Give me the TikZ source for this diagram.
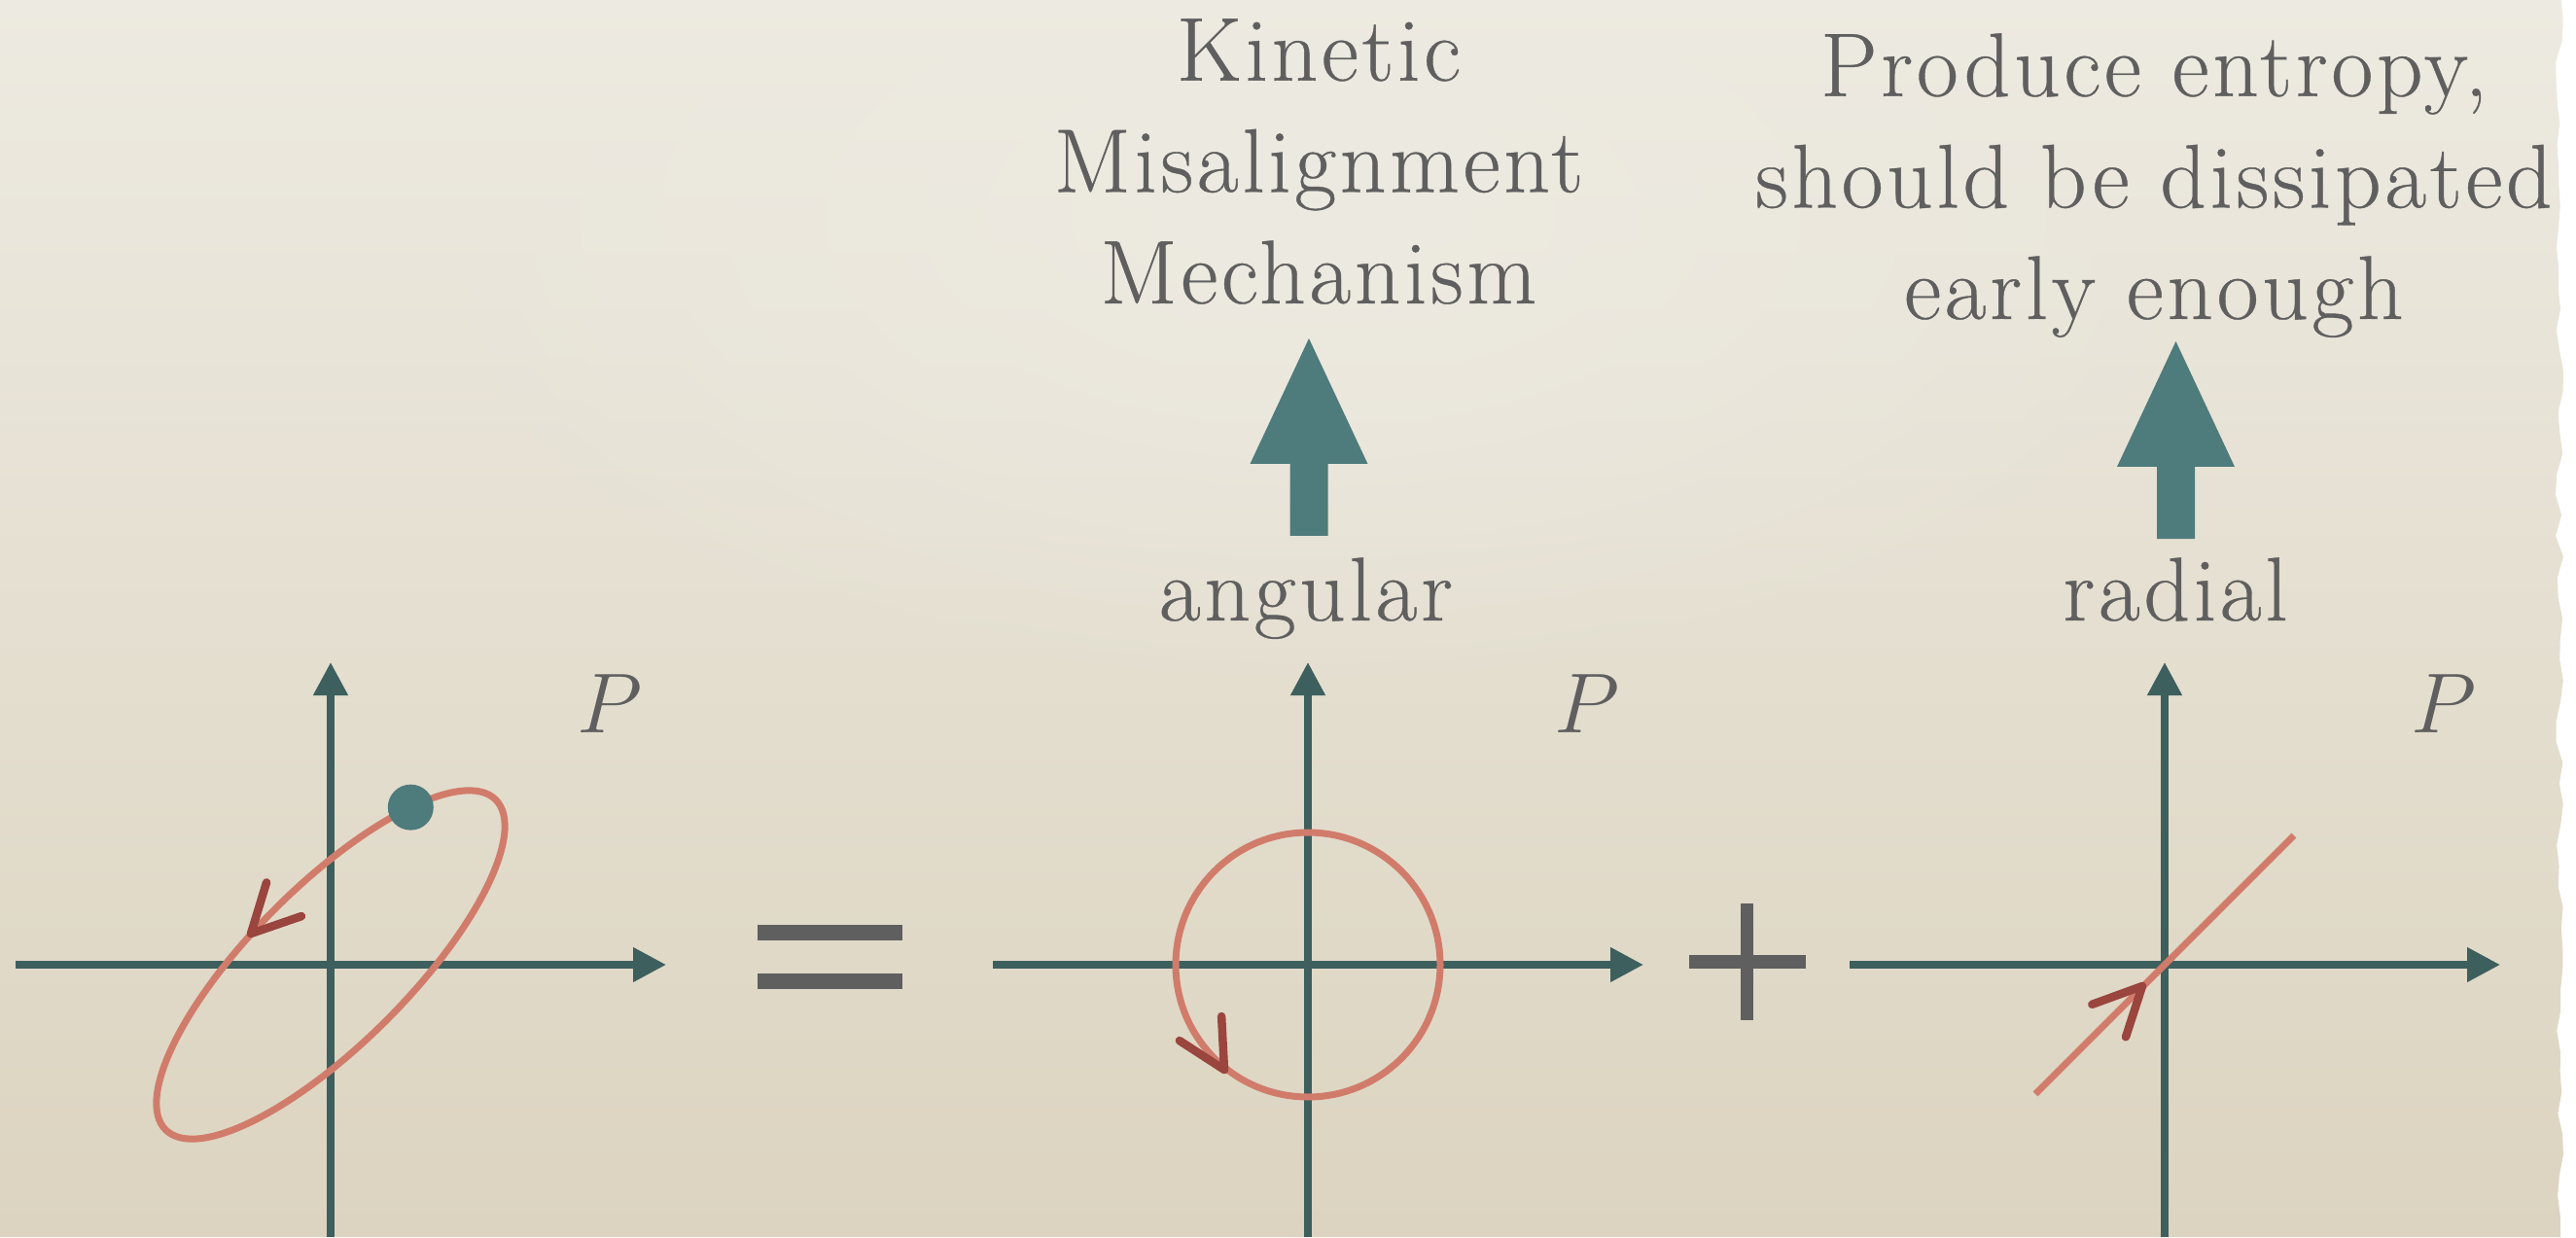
\documentclass[tikz,border=0pt]{standalone}
\usepackage{fontspec}
\setmainfont{Latin Modern Roman}[LetterSpace=4, FakeBold=0.4]
\usepackage{tikz}
\usetikzlibrary{arrows.meta,positioning,calc,fadings}

\definecolor{axisgreen}{HTML}{3D5F5E}
\definecolor{tealfill}{HTML}{4E7B7B}
\definecolor{orbitred}{HTML}{D17C6B}
\definecolor{tipred}{HTML}{9A453E}
\definecolor{textgrey}{HTML}{5F5F5F}
\definecolor{paperlight}{HTML}{EDEAE1}
\definecolor{paperdark}{HTML}{DCD4C0}
\tikzfading[name=softspot, inner color=transparent!0, outer color=transparent!100]

\begin{document}
\begin{tikzpicture}[
  axis/.style={draw=axisgreen, line width=0.075cm, -{Triangle[length=0.34cm, width=0.34cm]}},
  orbit/.style={draw=orbitred, line width=0.07cm},
  vtip/.style={draw=tipred, line width=0.085cm, line cap=round, line join=round},
  words/.style={text=textgrey, font=\fontsize{26.5}{32.6}\selectfont, align=center, inner sep=0pt},
  ball/.style={circle, fill=tealfill, inner sep=0pt, minimum size=0.47cm},
  bar/.style={fill=textgrey},
  bigarrow/.style={fill=tealfill}
]
\useasboundingbox (0,0) rectangle (26.49,12.72);
% paper
\fill[white] (0,0) rectangle (26.49,12.72);
\pgfmathsetseed{7}
\shade[top color=paperlight, bottom color=paperdark]
  (0,0) -- (26.33,0) \foreach \k in {1,...,60}{ -- ({26.32+0.04*rand},{\k*0.212}) } -- (0,12.72) -- cycle;
\fill[paperlight, path fading=softspot] (13.5,10.5) ellipse (10 and 5);

% the three phase planes
\coordinate (o1) at (3.40,2.80);
\coordinate (o2) at (13.45,2.80);
\coordinate (o3) at (22.26,2.80);
\foreach \i in {1,2,3}{
  \draw[axis] ($(o\i)+(-3.24,0)$) -- ($(o\i)+(3.45,0)$);
  \draw[axis] ($(o\i)+(0,-2.80)$) -- ($(o\i)+(0,3.11)$);
  \node[words, anchor=base] (p\i) at ($(o\i)+(2.87,2.39)$) {$P$};
}

% full motion
\begin{scope}[shift={(o1)}, rotate=45]
  \draw[orbit] (0,0) ellipse (2.40 and 0.81);
  \node[ball] (dot) at ({2.40*cos(44)},{0.81*sin(44)}) {};
\end{scope}
\coordinate (t1) at (2.58,3.12);
\draw[vtip] ($(t1)+(19:0.55)$) -- (t1) -- ($(t1)+(73:0.55)$);

% angular part
\draw[orbit] (o2) circle (1.36);
\coordinate (t2) at (12.59,1.72);
\draw[vtip] ($(t2)+(93:0.55)$) -- (t2) -- ($(t2)+(147:0.55)$);

% radial part
\draw[orbit] ($(o3)+(225:1.88)$) -- ($(o3)+(45:1.88)$);
\coordinate (t3) at (22.03,2.58);
\draw[vtip] ($(t3)+(200:0.55)$) -- (t3) -- ($(t3)+(252:0.55)$);

% = and +
\fill[bar] (7.79,3.05) rectangle (9.28,3.21);
\fill[bar] (7.79,2.55) rectangle (9.28,2.71);
\fill[bar] (17.37,2.76) rectangle (18.57,2.90);
\fill[bar] (17.90,2.23) rectangle (18.03,3.43);

% labels (base = last line)
\node[words, anchor=base] (angular) at (13.43,6.34) {angular};
\node[words, anchor=base] (radial) at (22.37,6.34) {radial};
\node[words, anchor=base] (kinetic) at (13.56,9.60) {Kinetic\\Misalignment\\Mechanism};
\node[words, anchor=base] (entropy) at (22.15,9.44) {Produce entropy,\\should be dissipated\\early enough};

% block arrows
\foreach \x/\y in {13.46/7.21, 22.375/7.18}{
  \fill[bigarrow] (\x,\y) ++(-0.195,0) -- ++(0,0.74) -- ++(-0.41,0) -- ++(0.605,1.29)
    -- ++(0.605,-1.29) -- ++(-0.41,0) -- ++(0,-0.74) -- cycle;
}
\end{tikzpicture}
\end{document}
